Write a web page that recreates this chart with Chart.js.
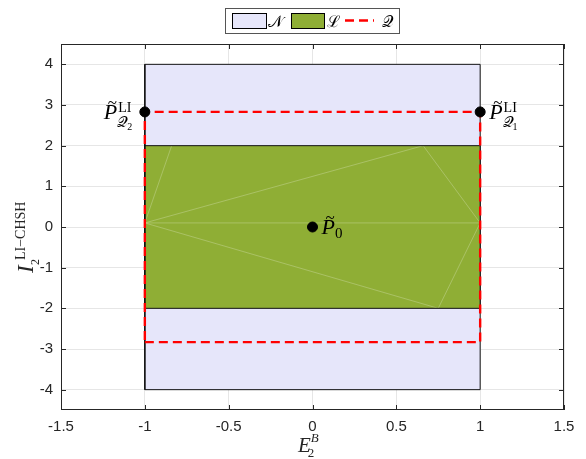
<!DOCTYPE html>
<html>
<head>
<meta charset="utf-8">
<script src="https://cdn.jsdelivr.net/npm/chart.js@4/dist/chart.umd.min.js"></script>
<style>
  html, body { margin: 0; background: #fff; }
</style>
</head>
<body>
<canvas id="c" width="586" height="459"></canvas>
<script>
// axis ticks
const xTicks = [-1.5, -1, -0.5, 0, 0.5, 1, 1.5];
const yTicks = [-4, -3, -2, -1, 0, 1, 2, 3, 4];

// region N (no-signalling): x from -1 to 1, I from -4 to 4
const nsX = [-1, 1];
const nsTop = 4, nsBottom = -4;
// region L (local): x from -1 to 1, I from -2 to 2
const locX = [-1, 1];
const locTop = 2, locBottom = -2;
// quantum bound Q (dashed)
const qX = [-1, 1];
const qBound = 2.83;
// marked points P_Q2, P_Q1, P_0
const ptX = [-1, 1, 0];
const ptY = [2.83, 2.83, 0];
// faint facet edges inside L
const facetEdges = [
  [[-1, 0.1], [0.66, 2]],
  [[-1, 0.1], [0.75, -2]],
  [[-1, 0.1], [1, 0.1]],
  [[-0.84, 2], [-1, 0.1]],
  [[0.66, 2], [1, 0.1]],
  [[1, 0.1], [0.75, -2]],
];

const INK = '#262626';
const LAV = '#e6e6fa';
const GREEN = '#8fae35';
const RED = '#ff0000';

const rect = (xs, lo, hi) => [
  { x: xs[0], y: lo }, { x: xs[1], y: lo }, { x: xs[1], y: hi }, { x: xs[0], y: hi }, { x: xs[0], y: lo },
];

const datasets = [
  { data: ptX.map((x, i) => ({ x, y: ptY[i] })), showLine: false, pointRadius: 5,
    pointBackgroundColor: '#000', pointBorderColor: '#000', order: 1 },
  { data: rect(qX, -qBound, qBound), borderColor: RED, borderWidth: 2.4, borderDash: [9, 5],
    pointRadius: 0, fill: false, order: 2 },
  { data: rect(locX, locBottom, locTop), borderColor: '#111', borderWidth: 1, pointRadius: 0, fill: false, order: 3 },
  ...facetEdges.map(e => ({
    data: e.map(([x, y]) => ({ x, y })), borderColor: 'rgba(255,255,255,0.3)', borderWidth: 0.8,
    pointRadius: 0, fill: false, order: 4,
  })),
  { data: [{ x: locX[0], y: locTop }, { x: locX[1], y: locTop }], borderWidth: 0, pointRadius: 0,
    backgroundColor: GREEN, fill: { value: locBottom }, order: 5 },
  { data: rect(nsX, nsBottom, nsTop), borderColor: '#111', borderWidth: 1, pointRadius: 0, fill: false, order: 6 },
  { data: [{ x: nsX[0], y: nsTop }, { x: nsX[1], y: nsTop }], borderWidth: 0, pointRadius: 0,
    backgroundColor: LAV, fill: { value: nsBottom }, order: 7 },
];

function txt(ctx, s, x, y, font, align) {
  ctx.font = font;
  ctx.textAlign = align || 'left';
  ctx.fillText(s, x, y);
  return ctx.measureText(s).width;
}

// italic P with a tilde on top
function pTilde(ctx, x, y) {
  const w = txt(ctx, 'P', x, y, 'italic 22px "Liberation Serif"');
  txt(ctx, '~', x + 4, y - 11, '17px "Liberation Serif"');
  return w;
}

function pLabel(ctx, x, y, sub) {
  const w = pTilde(ctx, x, y);
  txt(ctx, 'LI', x + w + 1, y - 7, '14px "Liberation Serif"');
  const qw = txt(ctx, '𝒬', x + w, y + 8, '15px "DejaVu Serif"');
  txt(ctx, sub, x + w + qw - 1, y + 11, '10px "Liberation Serif"');
}

const decor = {
  id: 'decor',
  afterDraw(chart) {
    const { ctx, chartArea: a, scales: { x, y } } = chart;
    ctx.save();
    // box + inward ticks
    ctx.strokeStyle = INK;
    ctx.lineWidth = 1;
    ctx.strokeRect(a.left + 0.5, a.top + 0.5, a.right - a.left - 1, a.bottom - a.top - 1);
    ctx.beginPath();
    xTicks.forEach(v => {
      const px = Math.round(x.getPixelForValue(v)) + 0.5;
      ctx.moveTo(px, a.bottom); ctx.lineTo(px, a.bottom - 5);
      ctx.moveTo(px, a.top); ctx.lineTo(px, a.top + 5);
    });
    yTicks.forEach(v => {
      const py = Math.round(y.getPixelForValue(v)) + 0.5;
      ctx.moveTo(a.left, py); ctx.lineTo(a.left + 5, py);
      ctx.moveTo(a.right, py); ctx.lineTo(a.right - 5, py);
    });
    ctx.stroke();

    // point labels
    ctx.fillStyle = '#000';
    ctx.textBaseline = 'alphabetic';
    const p2 = [x.getPixelForValue(ptX[0]), y.getPixelForValue(ptY[0])];
    const p1 = [x.getPixelForValue(ptX[1]), y.getPixelForValue(ptY[1])];
    const p0 = [x.getPixelForValue(ptX[2]), y.getPixelForValue(ptY[2])];
    pLabel(ctx, p2[0] - 41, p2[1] + 7, '2');
    pLabel(ctx, p1[0] + 9, p1[1] + 7, '1');
    const w0 = pTilde(ctx, p0[0] + 9, p0[1] + 7);
    txt(ctx, '0', p0[0] + 9 + w0, p0[1] + 11, '15px "Liberation Serif"');

    // axis titles
    ctx.fillStyle = INK;
    const ex = 298, ey = 452;
    const we = txt(ctx, 'E', ex, ey, 'italic 21px "Liberation Serif"');
    txt(ctx, '2', ex + we - 3, ey + 5, '13px "Liberation Serif"');
    txt(ctx, 'B', ex + we, ey - 10, 'italic 13px "Liberation Serif"');

    ctx.save();
    ctx.translate(33, 276);
    ctx.rotate(-Math.PI / 2);
    txt(ctx, 'I', 3, 0, 'italic 23px "Liberation Serif"');
    txt(ctx, '2', 11, 6, '12px "Liberation Serif"');
    txt(ctx, 'LI−CHSH', 16, -8, '14px "Liberation Serif"');
    ctx.restore();

    // legend
    const lx = 225, ly = 8, lw = 174, lh = 25;
    ctx.fillStyle = '#fff';
    ctx.fillRect(lx, ly, lw, lh);
    ctx.strokeStyle = '#555';
    ctx.strokeRect(lx + 0.5, ly + 0.5, lw, lh);
    ctx.strokeStyle = '#000';
    ctx.fillStyle = LAV;
    ctx.fillRect(232, 13, 34, 15);
    ctx.strokeRect(232.5, 13.5, 34, 15);
    ctx.fillStyle = GREEN;
    ctx.fillRect(291, 13, 33, 15);
    ctx.strokeRect(291.5, 13.5, 33, 15);
    ctx.strokeStyle = RED;
    ctx.lineWidth = 2.4;
    ctx.setLineDash([9, 5]);
    ctx.beginPath();
    ctx.moveTo(345, 20.5); ctx.lineTo(374, 20.5);
    ctx.stroke();
    ctx.setLineDash([]);
    ctx.fillStyle = '#000';
    txt(ctx, '𝒩', 268, 27, '16px "DejaVu Serif"');
    txt(ctx, 'ℒ', 327, 27, '16px "DejaVu Serif"');
    txt(ctx, '𝒬', 382, 27, '16px "DejaVu Serif"');
    ctx.restore();
  },
};

const tickFont = { family: '"Liberation Sans", Arial, sans-serif', size: 15 };

new Chart(document.getElementById('c'), {
  type: 'line',
  data: { datasets },
  options: {
    responsive: false,
    animation: false,
    devicePixelRatio: 1,
    layout: { padding: { top: 44, right: 22, left: 0, bottom: 0 } },
    plugins: { legend: { display: false }, tooltip: { enabled: false } },
    scales: {
      x: {
        type: 'linear', min: -1.5, max: 1.5,
        afterBuildTicks: s => { s.ticks = xTicks.map(value => ({ value })); },
        afterFit: s => { s.height = 49; },
        grid: { color: '#e6e6e6', drawTicks: false },
        border: { display: false },
        ticks: { font: tickFont, color: INK, padding: 8, maxRotation: 0, callback: v => String(v) },
      },
      y: {
        type: 'linear', min: -4.5, max: 4.5,
        afterBuildTicks: s => { s.ticks = yTicks.map(value => ({ value })); },
        afterFit: s => { s.width = 61; },
        grid: { color: '#e6e6e6', drawTicks: false },
        border: { display: false },
        ticks: { font: tickFont, color: INK, padding: 8, callback: v => String(v) },
      },
    },
  },
  plugins: [decor],
});
</script>
</body>
</html>
